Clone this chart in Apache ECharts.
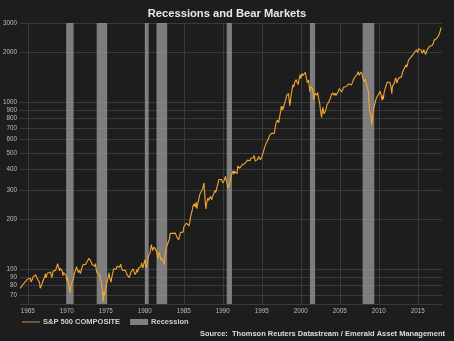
<!DOCTYPE html>
<html><head><meta charset="utf-8">
<script src="https://cdn.jsdelivr.net/npm/echarts@6/dist/echarts.min.js"></script>
<style>html,body{margin:0;padding:0;background:#1d1d1d;}#c{width:454px;height:341px;}</style>
</head><body><div id="c"></div>
<script>
const startYear = 1964;
// S&P 500 monthly closes, Jan 1964 .. Jan 2018
const sp500 = [
77.04,77.80,78.98,79.46,80.37,81.69,83.18,81.83,84.18,84.86,84.42,84.75,
87.56,87.43,86.16,89.11,88.42,84.12,85.25,87.17,89.96,92.42,91.61,92.43,
92.88,91.22,89.23,91.06,86.13,84.74,83.60,77.10,76.56,80.20,80.45,80.33,
86.61,86.78,90.20,94.01,89.08,90.64,94.75,93.64,96.71,93.90,94.00,96.47,
92.24,89.36,90.20,97.59,98.68,99.58,97.74,98.86,102.67,103.41,108.37,103.86,
103.01,98.13,101.51,103.69,103.46,97.71,91.83,95.51,93.12,97.24,93.81,92.06,
85.02,89.50,89.63,81.52,76.55,72.72,78.05,81.52,84.21,83.25,87.20,92.15,
95.88,96.75,100.31,103.95,99.63,98.70,95.58,99.03,98.34,94.23,93.99,102.09,
103.94,106.57,107.20,107.67,109.53,107.14,107.39,111.09,110.55,111.58,116.67,118.05,
116.03,111.68,111.52,106.97,104.95,104.26,108.22,104.25,108.43,108.29,95.96,97.55,
96.57,96.22,93.98,90.31,87.28,86.00,79.31,72.15,63.54,73.90,69.97,68.56,
76.98,81.59,83.36,87.30,91.15,95.19,88.75,86.88,83.87,89.04,91.24,90.19,
100.86,99.71,102.77,101.64,100.18,104.28,103.44,102.91,105.24,102.90,102.10,107.46,
102.03,99.82,98.42,98.44,96.12,100.48,98.85,96.77,96.53,92.34,94.83,95.10,
89.25,87.04,89.21,96.83,97.24,95.53,100.68,103.29,102.54,93.15,94.70,96.11,
99.93,96.28,101.59,101.76,99.08,102.91,103.81,109.32,109.32,101.82,106.16,107.94,
114.16,113.66,102.09,106.29,111.24,114.24,121.67,122.38,125.46,127.47,140.52,135.76,
129.55,131.27,136.00,132.81,132.59,131.21,130.92,122.79,116.18,121.89,126.35,122.55,
120.40,113.11,111.96,116.44,111.88,109.61,107.09,119.51,120.42,133.71,138.54,140.64,
145.30,148.06,152.96,164.42,162.39,168.11,162.56,164.40,166.07,163.55,166.40,164.93,
163.41,157.06,159.18,160.05,150.55,153.18,150.66,166.68,166.10,166.09,163.58,167.24,
179.63,181.18,180.66,179.83,189.55,191.85,190.92,188.63,182.08,189.82,202.17,211.28,
211.78,226.92,238.90,235.52,247.35,250.84,236.12,252.93,231.32,243.98,249.22,242.17,
274.08,284.20,291.70,288.36,290.10,304.00,318.66,329.80,321.83,251.79,230.30,247.08,
257.07,267.82,258.89,261.33,262.16,273.50,272.02,261.52,271.91,278.97,273.70,277.72,
297.47,288.86,294.87,309.64,320.52,317.98,346.08,351.45,349.15,340.36,345.99,353.40,
329.08,331.89,339.94,330.80,361.23,358.02,356.15,322.56,306.05,304.00,322.22,330.22,
343.93,367.07,375.22,375.35,389.83,371.16,387.81,395.43,387.86,392.46,375.22,417.09,
408.79,412.70,403.69,414.95,415.35,408.14,424.21,414.03,417.80,418.68,431.35,435.71,
438.78,443.38,451.67,440.19,450.19,450.53,448.13,463.56,458.93,467.83,461.79,466.45,
481.61,467.14,445.77,450.91,456.50,444.27,458.26,475.49,462.69,472.35,453.69,459.27,
470.42,487.39,500.71,514.71,533.40,544.75,562.06,561.88,584.41,581.50,605.37,615.93,
636.02,640.43,645.50,654.17,669.12,670.63,639.95,651.99,687.31,705.27,757.02,740.74,
786.16,790.82,757.12,801.34,848.28,885.14,954.29,899.47,947.28,914.62,955.40,970.43,
980.28,1049.34,1101.75,1111.75,1090.82,1133.84,1120.67,957.28,1017.01,1098.67,1163.63,1229.23,
1279.64,1238.33,1286.37,1335.18,1301.84,1372.71,1328.72,1320.41,1282.71,1362.93,1388.91,1469.25,
1394.46,1366.42,1498.58,1452.43,1420.60,1454.60,1430.83,1517.68,1436.51,1429.40,1314.95,1320.28,
1366.01,1239.94,1160.33,1249.46,1255.82,1224.42,1211.23,1133.58,1040.94,1059.78,1139.45,1148.08,
1130.20,1106.73,1147.39,1076.92,1067.14,989.82,911.62,916.07,815.28,885.76,936.31,879.82,
855.70,841.15,848.18,916.92,963.59,974.50,990.31,1008.01,995.97,1050.71,1058.20,1111.92,
1131.13,1144.94,1126.21,1107.30,1120.68,1140.84,1101.72,1104.24,1114.58,1130.20,1173.82,1211.92,
1181.27,1203.60,1180.59,1156.85,1191.50,1191.33,1234.18,1220.33,1228.81,1207.01,1249.48,1248.29,
1280.08,1280.66,1294.87,1310.61,1270.09,1270.20,1276.66,1303.82,1335.85,1377.94,1400.63,1418.30,
1438.24,1406.82,1420.86,1482.37,1530.62,1503.35,1455.27,1473.99,1526.75,1549.38,1481.14,1468.36,
1378.55,1330.63,1322.70,1385.59,1400.38,1280.00,1267.38,1282.83,1166.36,968.75,896.24,903.25,
825.88,735.09,797.87,872.81,919.14,919.32,987.48,1020.62,1057.08,1036.19,1095.63,1115.10,
1073.87,1104.49,1169.43,1186.69,1089.41,1030.71,1101.60,1049.33,1141.20,1183.26,1180.55,1257.64,
1286.12,1327.22,1325.83,1363.61,1345.20,1320.64,1292.28,1218.89,1131.42,1253.30,1246.96,1257.60,
1312.41,1365.68,1408.47,1397.91,1310.33,1362.16,1379.32,1406.58,1440.67,1412.16,1416.18,1426.19,
1498.11,1514.68,1569.19,1597.57,1630.74,1606.28,1685.73,1632.97,1681.55,1756.54,1805.81,1848.36,
1782.59,1859.45,1872.34,1883.95,1923.57,1960.23,1930.67,2003.37,1972.29,2018.05,2067.56,2058.90,
1994.99,2104.50,2067.89,2085.51,2107.39,2063.11,2103.84,1972.18,1920.03,2079.36,2080.41,2043.94,
1940.24,1932.23,2059.74,2065.30,2096.95,2098.86,2173.60,2170.95,2168.27,2126.15,2198.81,2238.83,
2278.87,2363.64,2362.72,2384.20,2411.80,2423.41,2470.30,2471.65,2519.36,2575.26,2647.58,2673.61,
2823.81
];
// NBER recessions (decimal years)
const recessionStart = [1969.92, 1973.83, 1980.0, 1981.5, 1990.5, 2001.17, 2007.92];
const recessionEnd   = [1970.87, 1975.17, 1980.5, 1982.87, 1991.17, 2001.83, 2009.42];
const xTicks = [1965,1970,1975,1980,1985,1990,1995,2000,2005,2010,2015];
const yTicks = [70,80,90,100,200,300,400,500,600,700,800,900,1000,2000,3000];

const lineData = sp500.map((v, i) => [startYear + i / 12, v]);
const areas = recessionStart.map((s, i) => [{xAxis: s}, {xAxis: recessionEnd[i]}]);

const chart = echarts.init(document.getElementById('c'), null, {renderer: 'canvas'});
const font = '"Liberation Sans", Arial, sans-serif';
chart.setOption({
  backgroundColor: '#1d1d1d',
  animation: false,
  title: {
    text: 'Recessions and Bear Markets', left: 'center', top: 3,
    textStyle: {color: '#e8e8e8', fontSize: 11.2, fontWeight: 'bold', fontFamily: font}
  },
  graphic: [{
    type: 'text', right: 9, top: 330,
    style: {text: 'Source:  Thomson Reuters Datastream / Emerald Asset Management',
      fill: '#dddddd', font: 'bold 7.5px ' + font}
  }],
  legend: {
    left: 22, top: 318, padding: 0, itemWidth: 18, itemHeight: 6, itemGap: 10,
    textStyle: {color: '#d0d0d0', fontSize: 7.5, fontWeight: 'bold', fontFamily: font, padding: [0,0,0,-2]},
    data: [
      {name: 'S&P 500 COMPOSITE', icon: 'path://M0,0H18V1.5H0Z', itemStyle: {color: '#8c6a44'}},
      {name: 'Recession', icon: 'rect', itemStyle: {color: '#808080'}}
    ]
  },
  grid: {left: 20, right: 12, top: 23, bottom: 37},
  xAxis: {
    type: 'value', min: 1964, max: 2018.1,
    axisLine: {show: true, lineStyle: {color: '#3a3a3a'}},
    axisTick: {show: false, customValues: xTicks},
    axisLabel: {customValues: xTicks, color: '#bdbdbd', fontSize: 6.3, fontFamily: font, margin: 4,
      formatter: v => String(Math.round(v))},
    splitLine: {show: true, lineStyle: {color: '#3a3a3a', width: 1}}
  },
  yAxis: {
    type: 'log', min: 62, max: 3000, logBase: 10,
    axisLine: {show: false},
    axisTick: {show: false, customValues: yTicks},
    axisLabel: {customValues: yTicks, color: '#bdbdbd', fontSize: 6.3, fontFamily: font, margin: 3,
      formatter: v => String(Math.round(v))},
    splitLine: {show: true, lineStyle: {color: '#3a3a3a', width: 1}}
  },
  series: [
    {
      name: 'Recession', type: 'line', data: [], z: 1,
      itemStyle: {color: '#808080'},
      markArea: {silent: true, itemStyle: {color: 'rgba(150,150,150,0.8)'}, data: areas}
    },
    {
      name: 'S&P 500 COMPOSITE', type: 'line', data: lineData, z: 3,
      symbol: 'none', showSymbol: false,
      lineStyle: {color: '#f2a532', width: 1.1},
      itemStyle: {color: '#8c6a44'}
    }
  ]
});
</script></body></html>
